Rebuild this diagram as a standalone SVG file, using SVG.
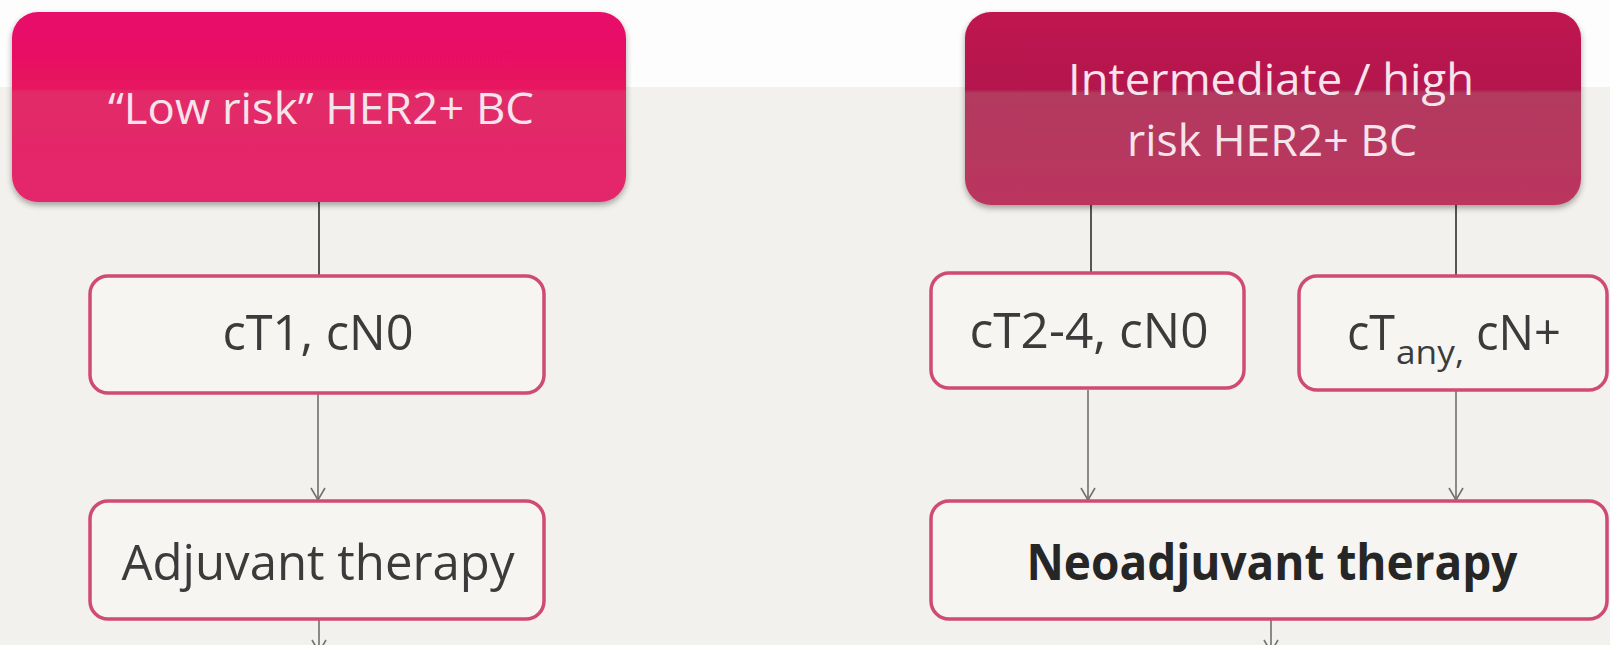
<svg xmlns="http://www.w3.org/2000/svg" width="1610" height="645" viewBox="0 0 1610 645">
<style>
.bg{fill:#f2f1ed}
.hdr{font-family:"Open Sans","Liberation Sans",sans-serif;fill:#f6e4ec;font-size:43px;text-anchor:middle}
.box{fill:#f7f5f2;stroke:#cf4b74;stroke-width:3.5}
.lbl{font-family:"Open Sans","Liberation Sans",sans-serif;fill:#3b3b3b;font-size:50px;text-anchor:middle}
.st{text-anchor:start}
.sub{font-size:32px}
.bold{font-weight:bold;fill:#262626}
.line{stroke:#222;stroke-width:1.5;fill:none}
.arr{stroke:#707070;stroke-width:1.6;fill:none;marker-end:url(#ah)}
</style>
<defs>
<marker id="ah" markerWidth="16" markerHeight="16" refX="14" refY="8" orient="auto" markerUnits="userSpaceOnUse" viewBox="0 0 16 16">
<path d="M2,1 L14,8 L2,15" fill="none" stroke="#707070" stroke-width="1.6"/>
</marker>
<linearGradient id="g1" x1="0" y1="0" x2="0" y2="1">
<stop offset="0" stop-color="#e8106a"/>
<stop offset="0.4" stop-color="#e8125f"/>
<stop offset="0.42" stop-color="#e32a68"/>
<stop offset="1" stop-color="#e4266a"/>
</linearGradient>
<linearGradient id="g2" x1="0" y1="0" x2="0" y2="1">
<stop offset="0" stop-color="#c0134f"/>
<stop offset="0.4" stop-color="#b3174e"/>
<stop offset="0.42" stop-color="#b23a5e"/>
<stop offset="1" stop-color="#bb355f"/>
</linearGradient>
<filter id="sh" x="-5%" y="-10%" width="110%" height="125%">
<feGaussianBlur in="SourceAlpha" stdDeviation="3"/>
<feOffset dy="3"/>
<feComponentTransfer><feFuncA type="linear" slope="0.35"/></feComponentTransfer>
<feMerge><feMergeNode/><feMergeNode in="SourceGraphic"/></feMerge>
</filter>
</defs>
<rect x="0" y="0" width="1610" height="645" fill="#fdfdfd"/>
<rect class="bg" x="0" y="87" width="1610" height="558"/>
<g id="connectors">
<line class="line" x1="319" y1="202" x2="319" y2="275"/>
<line class="line" x1="1091" y1="205" x2="1091" y2="272"/>
<line class="line" x1="1456" y1="205" x2="1456" y2="275"/>
<line class="arr" x1="318" y1="394" x2="318" y2="500"/>
<line class="arr" x1="1088" y1="390" x2="1088" y2="500"/>
<line class="arr" x1="1456" y1="391" x2="1456" y2="500"/>
<line class="arr" x1="319" y1="620" x2="319" y2="652"/>
<line class="arr" x1="1271" y1="620" x2="1271" y2="652"/>
</g>
<g id="low-risk">
<rect x="12" y="12" width="614" height="190" rx="26" fill="url(#g1)" filter="url(#sh)"/>
<text class="hdr" x="321" y="124" textLength="426" lengthAdjust="spacingAndGlyphs">“Low risk” HER2+ BC</text>
</g>
<g id="high-risk">
<rect x="965" y="12" width="616" height="193" rx="26" fill="url(#g2)" filter="url(#sh)"/>
<text class="hdr" x="1271" y="95" textLength="406" lengthAdjust="spacingAndGlyphs">Intermediate / high</text>
<text class="hdr" x="1272" y="156" textLength="290" lengthAdjust="spacingAndGlyphs">risk HER2+ BC</text>
</g>
<g id="ct1">
<rect class="box" x="90" y="276" width="454" height="117" rx="18"/>
<text class="lbl" x="318" y="350" textLength="191" lengthAdjust="spacingAndGlyphs">cT1, cN0</text>
</g>
<g id="ct2-4">
<rect class="box" x="931" y="273" width="313" height="115" rx="18"/>
<text class="lbl" x="1089" y="348" textLength="239" lengthAdjust="spacingAndGlyphs">cT2-4, cN0</text>
</g>
<g id="ctany">
<rect class="box" x="1299" y="276" width="308" height="114" rx="18"/>
<text class="lbl st" x="1347" y="350" textLength="48" lengthAdjust="spacingAndGlyphs">cT</text>
<text class="lbl st sub" x="1396" y="364" textLength="68" lengthAdjust="spacingAndGlyphs">any,</text>
<text class="lbl st" x="1476" y="350" textLength="85" lengthAdjust="spacingAndGlyphs">cN+</text>
</g>
<g id="adjuvant">
<rect class="box" x="90" y="501" width="454" height="118" rx="18"/>
<text class="lbl" x="318" y="580" textLength="393" lengthAdjust="spacingAndGlyphs">Adjuvant therapy</text>
</g>
<g id="neoadjuvant">
<rect class="box" x="931" y="501" width="676" height="118" rx="18"/>
<text class="lbl bold" x="1272" y="580" textLength="491" lengthAdjust="spacingAndGlyphs">Neoadjuvant therapy</text>
</g>
</svg>
